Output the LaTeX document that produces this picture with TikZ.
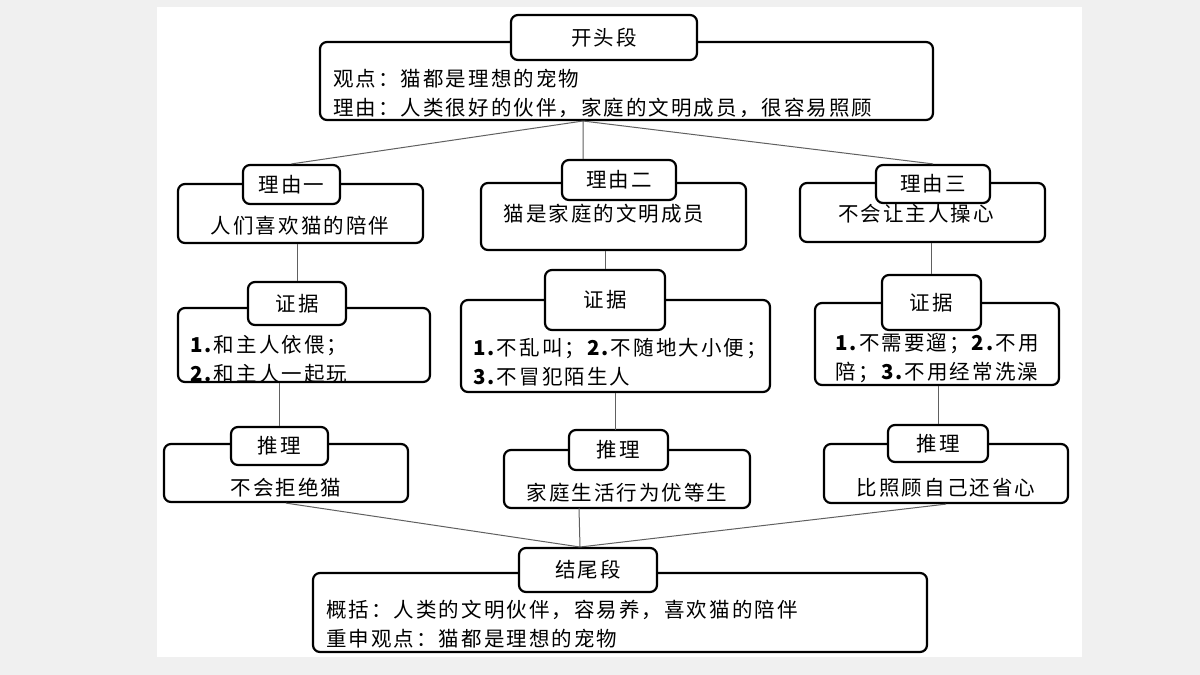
\documentclass[tikz,border=0pt]{standalone}
\usepackage{fontspec}
\setmainfont[LetterSpace=10]{Noto Sans CJK SC}
\usetikzlibrary{positioning}

\begin{document}
\begin{tikzpicture}[
    x = 1pt, y = -1pt,
    box/.style={draw, line width=2.2pt, rounded corners=7pt, fill=white, inner sep=0pt},
    tag/.style={draw, line width=2.2pt, rounded corners=7pt, fill=white, inner sep=0pt, font=\fontsize{20.5}{22}\selectfont},
    txt/.style={inner sep=0pt, font=\fontsize{20.5}{29}\selectfont},
    link/.style={draw=gray!75!black, line width=1pt}
]
    \fill[gray!12] (0,0) rectangle (1200,675);
    \fill[white] (157,7) rectangle (1082,657);
    \useasboundingbox (0,0) rectangle (1200,675);

    % boxes: name, centre, size
    \node[box, minimum width=613pt, minimum height=78pt] (top) at (626.5,81) {};
    \node[box, minimum width=245pt, minimum height=59pt] (r1) at (300.5,213.5) {};
    \node[box, minimum width=265pt, minimum height=67pt] (r2) at (613.5,216.5) {};
    \node[box, minimum width=245pt, minimum height=59pt] (r3) at (922.5,212.5) {};
    \node[box, minimum width=252pt, minimum height=74pt] (e1) at (304,345) {};
    \node[box, minimum width=309pt, minimum height=92pt] (e2) at (615.5,346) {};
    \node[box, minimum width=244pt, minimum height=82pt] (e3) at (937,344) {};
    \node[box, minimum width=244pt, minimum height=58pt] (i1) at (286,473) {};
    \node[box, minimum width=246pt, minimum height=58pt] (i2) at (627,479) {};
    \node[box, minimum width=244pt, minimum height=59pt] (i3) at (946,473.5) {};
    \node[box, minimum width=614pt, minimum height=79pt] (end) at (620,612.5) {};

    % tags
    \node[tag, minimum width=186pt, minimum height=45pt] (topt) at (604,37.5) {开头段};
    \node[tag, minimum width=97pt, minimum height=39pt] (r1t) at (291.5,184.5) {理由一};
    \node[tag, minimum width=114pt, minimum height=40pt] (r2t) at (619,180) {理由二};
    \node[tag, minimum width=114pt, minimum height=38pt] (r3t) at (933,184) {理由三};
    \node[tag, minimum width=98pt, minimum height=43pt] (e1t) at (297,303.5) {证据};
    \node[tag, minimum width=120pt, minimum height=60pt] (e2t) at (605,300) {证据};
    \node[tag, minimum width=99pt, minimum height=55pt] (e3t) at (931.5,302.5) {证据};
    \node[tag, minimum width=97pt, minimum height=38pt] (i1t) at (279.5,446) {推理};
    \node[tag, minimum width=99pt, minimum height=40pt] (i2t) at (618.5,450) {推理};
    \node[tag, minimum width=100pt, minimum height=37pt] (i3t) at (938,443.5) {推理};
    \node[tag, minimum width=138pt, minimum height=44pt] (endt) at (588,570) {结尾段};

    % texts
    \node[txt, anchor=west, align=left] (topx) at (333,93) {观点：猫都是理想的宠物\\理由：人类很好的伙伴，家庭的文明成员，很容易照顾};
    \node[txt] (r1x) at (300,226) {人们喜欢猫的陪伴};
    \node[txt] (r2x) at (604,214) {猫是家庭的文明成员};
    \node[txt] (r3x) at (916,214) {不会让主人操心};
    \node[txt, anchor=west, align=left] (e1x) at (190,359) {\textbf{1.}和主人依偎；\\\textbf{2.}和主人一起玩};
    \node[txt, anchor=west, align=left] (e2x) at (473,362) {\textbf{1.}不乱叫；\textbf{2.}不随地大小便；\\\textbf{3.}不冒犯陌生人};
    \node[txt, align=center] (e3x) at (937,358) {\textbf{1.}不需要遛；\textbf{2.}不用\\陪；\textbf{3.}不用经常洗澡};
    \node[txt] (i1x) at (286,488) {不会拒绝猫};
    \node[txt] (i2x) at (627,493) {家庭生活行为优等生};
    \node[txt] (i3x) at (946,488) {比照顾自己还省心};
    \node[txt, anchor=west, align=left] (endx) at (326,624) {概括：人类的文明伙伴，容易养，喜欢猫的陪伴\\重申观点：猫都是理想的宠物};

    % connectors
    \coordinate (hub) at (583,121);
    \coordinate (sink) at (580,547);
    \path[link] (hub) -- (r1t.north) (hub) -- (r2t.north -| hub) (hub) -- (r3t.north);
    \path[link] (r1.south -| e1t) -- (e1t.north) (r2.south -| e2t) -- (e2t.north)
        (r3.south -| e3t) -- (e3t.north);
    \path[link] (e1.south -| i1t) -- (i1t.north) (e2.south -| 615,0) -- (615,430)
        (e3.south -| i3t) -- (i3t.north);
    \path[link] (i1.south) -- (sink) (579,508) -- (sink) (i3.south) -- (sink);
\end{tikzpicture}
\end{document}
